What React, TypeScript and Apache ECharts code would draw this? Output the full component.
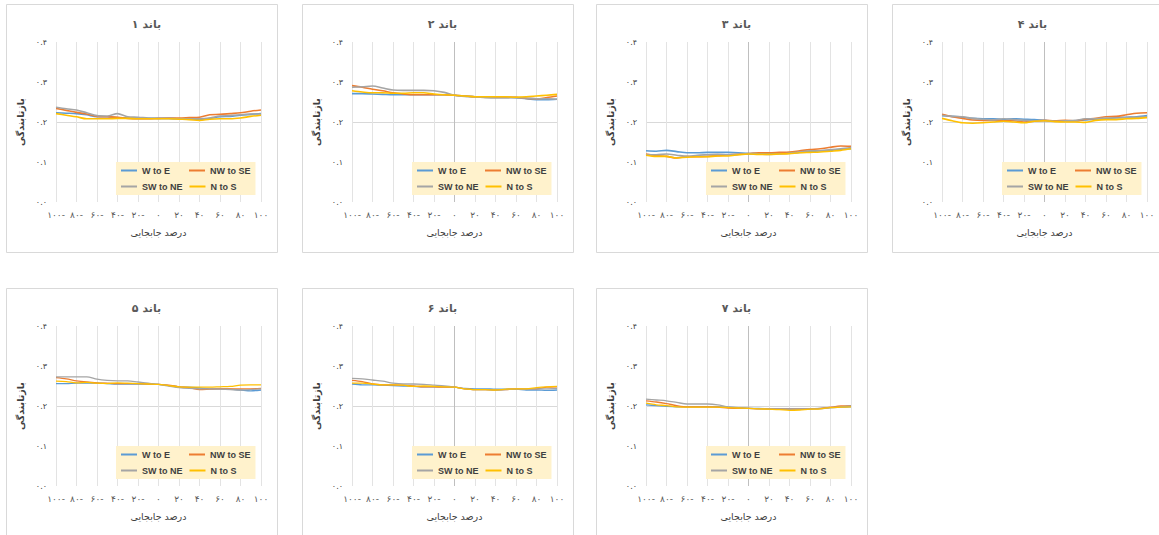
import { useEffect, useRef } from "react";
import * as echarts from "echarts";

const xValues = [-100, -90, -80, -70, -60, -50, -40, -30, -20, -10, 0, 10, 20, 30, 40, 50, 60, 70, 80, 90, 100];
const seriesNames = ["W to E", "NW to SE", "SW to NE", "N to S"];
const seriesColors = ["#5B9BD5", "#ED7D31", "#A5A5A5", "#FFC000"];
const panelTitles = ["باند ۱", "باند ۲", "باند ۳", "باند ۴", "باند ۵", "باند ۶", "باند ۷"];
const yAxisName = "بازتابندگی";
const xAxisName = "درصد جابجایی";

// order of rows in each band: W to E, NW to SE, SW to NE, N to S
const band1WE = [0.223, 0.222, 0.221, 0.218, 0.213, 0.213, 0.211, 0.21, 0.209, 0.209, 0.209, 0.209, 0.208, 0.208, 0.206, 0.209, 0.213, 0.214, 0.217, 0.219, 0.221];
const band1NW = [0.234, 0.229, 0.224, 0.22, 0.214, 0.213, 0.212, 0.209, 0.208, 0.208, 0.209, 0.21, 0.21, 0.211, 0.212, 0.218, 0.219, 0.221, 0.223, 0.227, 0.23];
const band1SW = [0.237, 0.233, 0.23, 0.223, 0.216, 0.215, 0.221, 0.213, 0.212, 0.21, 0.209, 0.209, 0.208, 0.208, 0.208, 0.21, 0.215, 0.216, 0.218, 0.22, 0.22];
const band1NS = [0.221, 0.217, 0.213, 0.208, 0.208, 0.208, 0.209, 0.209, 0.208, 0.208, 0.208, 0.208, 0.207, 0.206, 0.204, 0.207, 0.208, 0.208, 0.21, 0.214, 0.217];

const band2WE = [0.271, 0.271, 0.27, 0.269, 0.268, 0.268, 0.268, 0.268, 0.268, 0.268, 0.267, 0.265, 0.263, 0.263, 0.262, 0.262, 0.261, 0.258, 0.256, 0.256, 0.257];
const band2NW = [0.291, 0.287, 0.282, 0.278, 0.273, 0.27, 0.268, 0.268, 0.268, 0.268, 0.267, 0.265, 0.263, 0.263, 0.262, 0.262, 0.262, 0.259, 0.258, 0.261, 0.265];
const band2SW = [0.287, 0.288, 0.29, 0.285, 0.28, 0.279, 0.279, 0.279, 0.278, 0.274, 0.267, 0.264, 0.263, 0.261, 0.26, 0.26, 0.261, 0.26, 0.258, 0.258, 0.257];
const band2NS = [0.278, 0.275, 0.273, 0.273, 0.272, 0.272, 0.273, 0.273, 0.27, 0.268, 0.267, 0.265, 0.263, 0.263, 0.263, 0.263, 0.262, 0.263, 0.265, 0.267, 0.269];

const band3WE = [0.128, 0.127, 0.129, 0.126, 0.123, 0.123, 0.124, 0.124, 0.124, 0.123, 0.121, 0.122, 0.122, 0.122, 0.123, 0.124, 0.126, 0.128, 0.129, 0.132, 0.133];
const band3NW = [0.12, 0.116, 0.114, 0.11, 0.114, 0.113, 0.114, 0.116, 0.118, 0.119, 0.121, 0.123, 0.123, 0.124, 0.125, 0.128, 0.131, 0.133, 0.137, 0.14, 0.139];
const band3SW = [0.118, 0.118, 0.12, 0.117, 0.114, 0.117, 0.118, 0.119, 0.118, 0.119, 0.121, 0.12, 0.119, 0.12, 0.122, 0.125, 0.128, 0.128, 0.131, 0.133, 0.136];
const band3NS = [0.117, 0.114, 0.114, 0.11, 0.112, 0.113, 0.113, 0.115, 0.115, 0.118, 0.12, 0.119, 0.119, 0.12, 0.121, 0.123, 0.124, 0.125, 0.127, 0.129, 0.133];

const band4WE = [0.216, 0.214, 0.212, 0.209, 0.208, 0.208, 0.207, 0.208, 0.207, 0.206, 0.204, 0.202, 0.203, 0.203, 0.205, 0.207, 0.208, 0.211, 0.212, 0.213, 0.216];
const band4NW = [0.219, 0.213, 0.209, 0.205, 0.204, 0.204, 0.203, 0.203, 0.2, 0.202, 0.204, 0.203, 0.204, 0.203, 0.207, 0.209, 0.213, 0.214, 0.218, 0.222, 0.223];
const band4SW = [0.217, 0.214, 0.213, 0.209, 0.207, 0.205, 0.208, 0.206, 0.204, 0.203, 0.204, 0.202, 0.203, 0.204, 0.208, 0.208, 0.21, 0.21, 0.211, 0.212, 0.213];
const band4NS = [0.209, 0.203, 0.198, 0.197, 0.198, 0.2, 0.202, 0.2, 0.198, 0.202, 0.203, 0.201, 0.2, 0.2, 0.199, 0.204, 0.206, 0.206, 0.208, 0.209, 0.211];

const band5WE = [0.256, 0.256, 0.257, 0.257, 0.257, 0.256, 0.255, 0.255, 0.255, 0.255, 0.254, 0.251, 0.248, 0.247, 0.245, 0.243, 0.243, 0.242, 0.24, 0.238, 0.24];
const band5NW = [0.271, 0.268, 0.263, 0.26, 0.258, 0.257, 0.256, 0.256, 0.256, 0.255, 0.254, 0.252, 0.248, 0.246, 0.241, 0.242, 0.243, 0.243, 0.243, 0.243, 0.244];
const band5SW = [0.273, 0.273, 0.273, 0.273, 0.267, 0.264, 0.263, 0.263, 0.26, 0.257, 0.254, 0.25, 0.246, 0.244, 0.243, 0.243, 0.242, 0.241, 0.24, 0.241, 0.243];
const band5NS = [0.262, 0.261, 0.258, 0.259, 0.257, 0.256, 0.258, 0.257, 0.256, 0.255, 0.254, 0.251, 0.248, 0.247, 0.247, 0.247, 0.248, 0.249, 0.252, 0.253, 0.253];

const band6WE = [0.255, 0.253, 0.253, 0.252, 0.251, 0.25, 0.249, 0.248, 0.248, 0.248, 0.247, 0.244, 0.243, 0.243, 0.242, 0.242, 0.242, 0.24, 0.24, 0.239, 0.24];
const band6NW = [0.264, 0.261, 0.255, 0.253, 0.253, 0.252, 0.25, 0.248, 0.248, 0.247, 0.247, 0.243, 0.241, 0.241, 0.24, 0.241, 0.243, 0.243, 0.243, 0.247, 0.248];
const band6SW = [0.269, 0.268, 0.265, 0.262, 0.257, 0.255, 0.255, 0.254, 0.252, 0.25, 0.247, 0.243, 0.241, 0.241, 0.24, 0.241, 0.242, 0.242, 0.243, 0.243, 0.244];
const band6NS = [0.257, 0.257, 0.255, 0.253, 0.253, 0.252, 0.249, 0.25, 0.249, 0.248, 0.247, 0.243, 0.241, 0.241, 0.24, 0.242, 0.243, 0.243, 0.246, 0.248, 0.249];

const band7WE = [0.203, 0.201, 0.199, 0.198, 0.198, 0.198, 0.198, 0.198, 0.197, 0.196, 0.194, 0.194, 0.193, 0.193, 0.193, 0.193, 0.193, 0.194, 0.196, 0.197, 0.198];
const band7NW = [0.213, 0.21, 0.206, 0.201, 0.198, 0.198, 0.198, 0.197, 0.195, 0.194, 0.194, 0.193, 0.193, 0.193, 0.192, 0.192, 0.193, 0.194, 0.197, 0.2, 0.201];
const band7SW = [0.217, 0.215, 0.213, 0.209, 0.205, 0.205, 0.205, 0.203, 0.198, 0.196, 0.194, 0.193, 0.193, 0.193, 0.192, 0.192, 0.193, 0.193, 0.196, 0.198, 0.2];
const band7NS = [0.207, 0.203, 0.201, 0.198, 0.197, 0.197, 0.197, 0.197, 0.196, 0.195, 0.194, 0.193, 0.192, 0.191, 0.189, 0.19, 0.192, 0.193, 0.196, 0.197, 0.198];

const bands = [
  [band1WE, band1NW, band1SW, band1NS],
  [band2WE, band2NW, band2SW, band2NS],
  [band3WE, band3NW, band3SW, band3NS],
  [band4WE, band4NW, band4SW, band4NS],
  [band5WE, band5NW, band5SW, band5NS],
  [band6WE, band6NW, band6SW, band6NS],
  [band7WE, band7NW, band7SW, band7NS],
];
const darkCenterLine = [false, true, true, true, false, true, true];

const FA = "۰۱۲۳۴۵۶۷۸۹";
const toFa = (s: string) => s.replace(/[0-9]/g, (d) => FA[Number(d)]);
const FONT = "'DejaVu Sans', sans-serif";
const LFONT = "'Liberation Sans', Arial, sans-serif";

export default function App() {
  const ref = useRef<HTMLDivElement>(null);
  useEffect(() => {
    if (!ref.current) return;
    const chart = echarts.init(ref.current, null, { renderer: "svg" });
    const panelLefts = [6, 302, 596, 892];
    const panelTops = [4, 288];
    const grids: any[] = [];
    const xAxes: any[] = [];
    const yAxes: any[] = [];
    const series: any[] = [];
    const titles: any[] = [];
    const legends: any[] = [];
    const graphics: any[] = [];
    bands.forEach((band, i) => {
      const row = i < 4 ? 0 : 1;
      const col = i < 4 ? i : i - 4;
      const pl = panelLefts[col];
      const pt = panelTops[row];
      const gl = pl + 50;
      const gt = pt + 38;
      const gw = 205;
      const gh = 160;
      graphics.push({
        type: "rect",
        shape: { x: pl + 0.5, y: pt + 0.5, width: 271, height: row === 0 ? 248 : 260 },
        style: { fill: "none", stroke: "#D9D9D9", lineWidth: 1 },
        silent: true,
        z: -1,
      });
      grids.push({ left: gl, top: gt, width: gw, height: gh, containLabel: false });
      titles.push({
        text: panelTitles[i],
        left: pl + 135.5,
        top: pt + 10,
        textAlign: "center",
        textStyle: { fontFamily: FONT, fontSize: 11, fontWeight: "bold", color: "#595959" },
      });
      const xColors = xValues.filter((v) => v % 20 === 0).map((v) => (v === 0 && darkCenterLine[i] ? "#BFBFBF" : "#E3E3E3"));
      xAxes.push({
        type: "value",
        gridIndex: i,
        min: -100,
        max: 100,
        interval: 20,
        axisLine: { show: false },
        axisTick: { show: false },
        splitLine: { show: true, lineStyle: { color: xColors, width: 1 } },
        axisLabel: {
          margin: 8,
          fontSize: 9,
          fontFamily: FONT,
          color: "#595959",
          formatter: (v: number) => (v < 0 ? toFa(String(-v)) + "-" : toFa(String(v))),
        },
        name: xAxisName,
        nameLocation: "middle",
        nameGap: 25,
        nameTextStyle: { fontFamily: FONT, fontSize: 9.5, color: "#404040" },
      });
      yAxes.push({
        type: "value",
        gridIndex: i,
        min: 0,
        max: 0.4,
        interval: 0.1,
        axisLine: { show: false },
        axisTick: { show: false },
        splitLine: {
          show: true,
          lineStyle: { color: ["rgba(0,0,0,0)", "rgba(0,0,0,0)", "#D9D9D9", "rgba(0,0,0,0)", "rgba(0,0,0,0)"], width: 1 },
        },
        axisLabel: {
          margin: 9,
          fontSize: 8,
          fontFamily: FONT,
          color: "#404040",
          formatter: (v: number) => toFa(v.toFixed(1)),
        },
        name: yAxisName,
        nameLocation: "middle",
        nameGap: 31,
        nameRotate: 90,
        nameTextStyle: { fontFamily: FONT, fontSize: 9.5, fontWeight: "bold", color: "#404040" },
      });
      band.forEach((vals, s) => {
        series.push({
          type: "line",
          name: seriesNames[s],
          xAxisIndex: i,
          yAxisIndex: i,
          data: xValues.map((x, k) => [x, vals[k]]),
          showSymbol: false,
          smooth: 0.3,
          lineStyle: { color: seriesColors[s], width: row === 0 ? 1.6 : 1.3 },
          itemStyle: { color: seriesColors[s] },
          z: 2 + s,
        });
      });
      legends.push({
        data: seriesNames,
        left: gl + gw - 5 - 140,
        top: gt + gh - 6 - 34,
        width: 136,
        orient: "horizontal",
        backgroundColor: "#FFF2CC",
        padding: [4, 5],
        itemWidth: 16,
        itemHeight: 2,
        itemGap: 7,
        icon: "rect",
        selectedMode: false,
        formatter: "{a|{name}}",
        textStyle: {
          color: "#404040",
          fontSize: 9,
          fontWeight: "bold",
          fontFamily: LFONT,
          rich: { a: { width: 40, fontSize: 9, fontWeight: "bold", lineHeight: 11, color: "#404040", fontFamily: LFONT } },
        },
      });
    });
    chart.setOption({
      animation: false,
      backgroundColor: "#ffffff",
      title: titles,
      grid: grids,
      xAxis: xAxes,
      yAxis: yAxes,
      legend: legends,
      series,
      graphic: graphics,
    });
    return () => chart.dispose();
  }, []);
  return <div ref={ref} style={{ position: "fixed", left: 0, top: 0, width: 1159, height: 535 }} />;
}
